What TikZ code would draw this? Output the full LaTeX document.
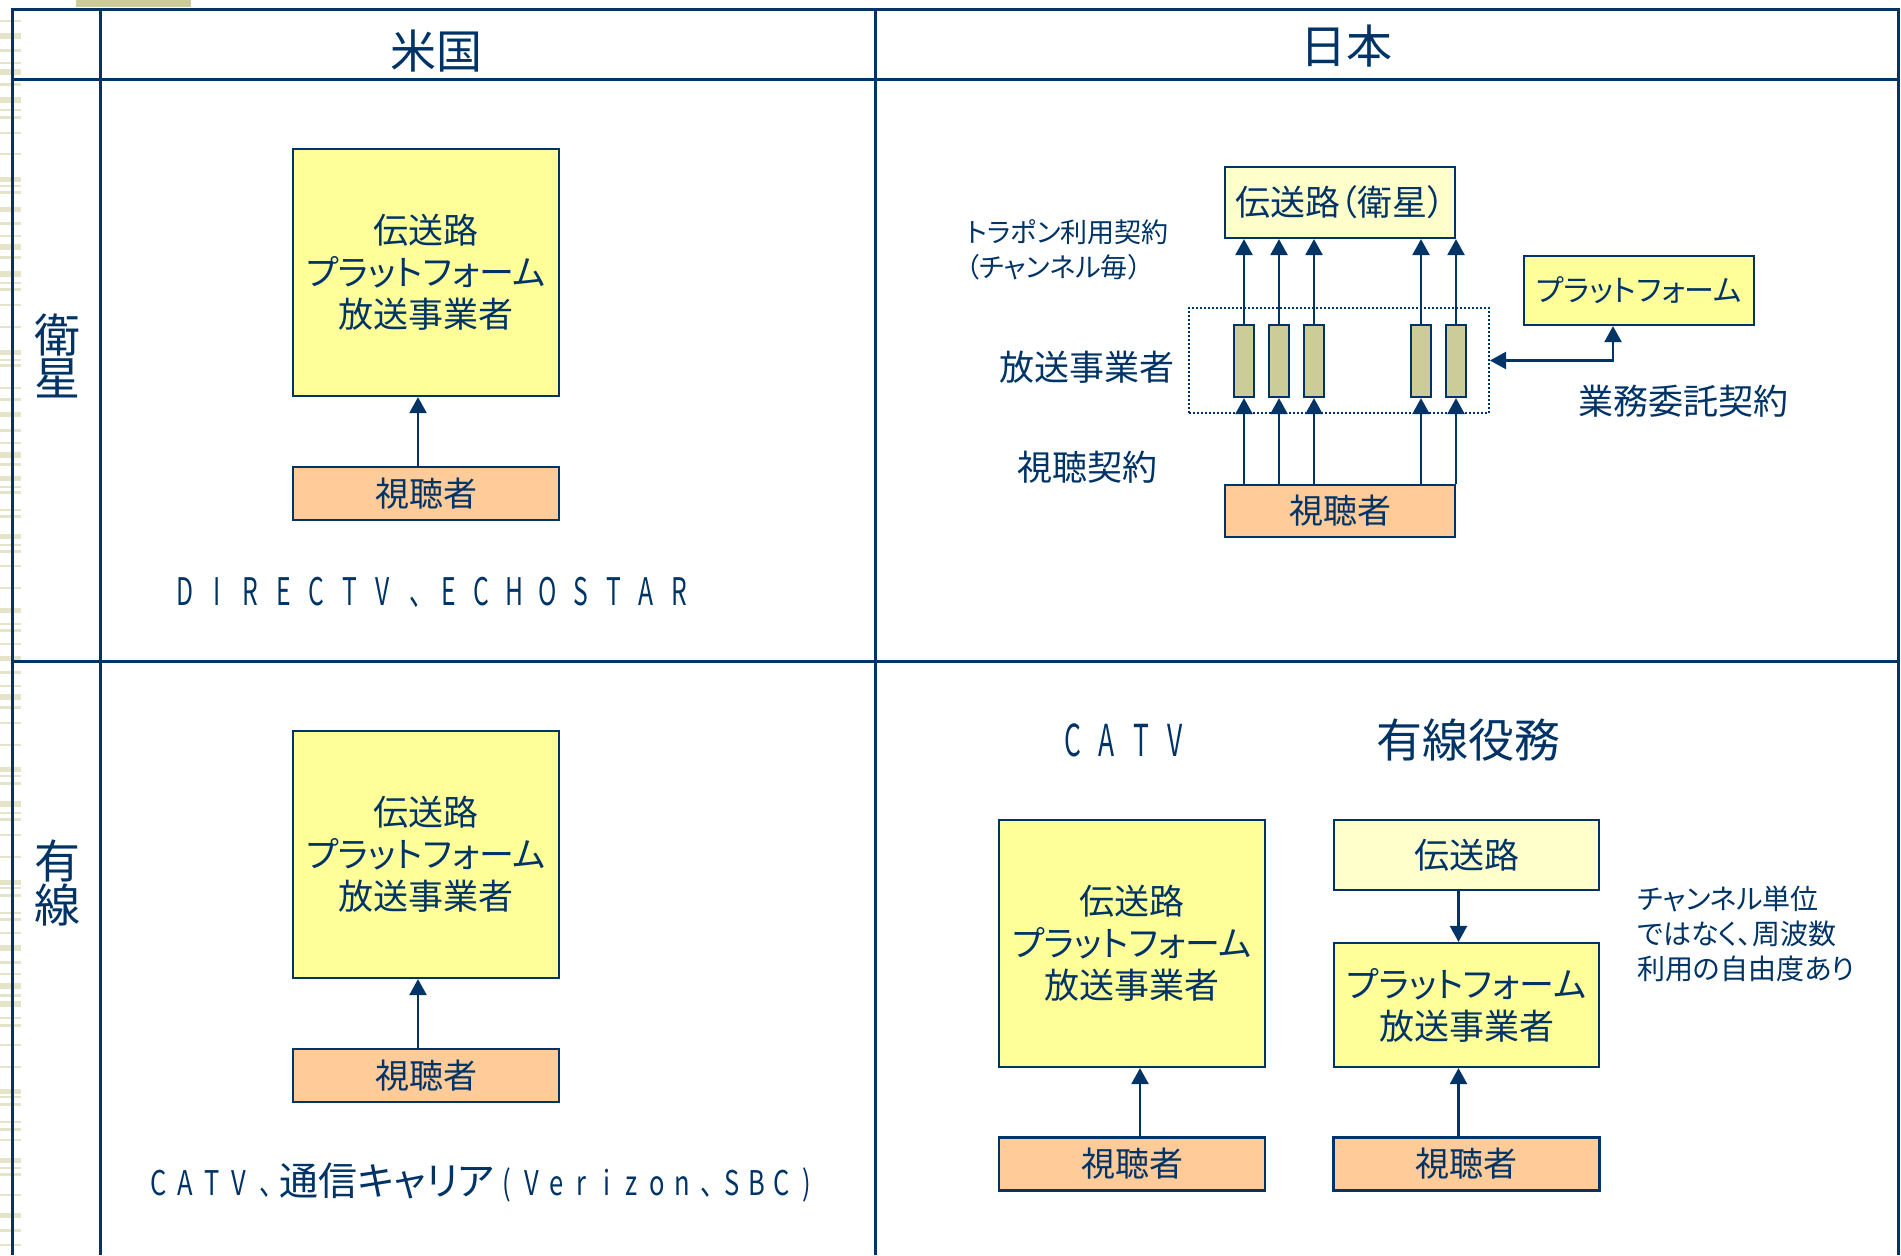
\documentclass[tikz,border=0pt]{standalone}
\usepackage{graphicx}
\usepackage{fontspec}
\setmainfont{Noto Sans CJK JP}[RawFeature=+palt]
\usetikzlibrary{arrows.meta,calc}
\definecolor{navy}{RGB}{0,51,102}
\definecolor{boxyellow}{RGB}{255,255,153}
\definecolor{paleyellow}{RGB}{255,255,204}
\definecolor{peach}{RGB}{255,204,153}
\definecolor{olivebox}{RGB}{204,204,153}
\definecolor{stripecol}{RGB}{229,227,200}
\makeatletter
\newcommand\fwtext[3]{\def\fw@p{#1}\def\fw@s{#2}\fw@loop#3\relax}
\def\fw@loop#1{\ifx\relax#1\else\makebox[\fw@p]{\scalebox{\fw@s}[1]{#1}}\expandafter\fw@loop\fi}
\makeatother
\tikzset{
  gridline/.style={navy, line width=1.5pt},
  bx/.style={draw=navy, line width=1.1pt, inner sep=0pt, align=center, text=navy},
  ybox/.style={bx, fill=boxyellow},
  pbox/.style={bx, fill=paleyellow},
  vbox/.style={bx, fill=peach, minimum width=133pt, minimum height=26.5pt, font=\fontsize{17pt}{20pt}\selectfont},
  chbox/.style={bx, fill=olivebox, minimum width=10pt, minimum height=36pt},
  bigbox/.style={ybox, minimum width=133pt, minimum height=123.5pt, font=\fontsize{17.5pt}{21pt}\selectfont},
  lbl/.style={text=navy, inner sep=0pt, align=center},
  arr/.style={draw=navy, line width=1.2pt, -{Triangle[width=8.5pt,length=8pt]}},
  arrboth/.style={draw=navy, line width=1.2pt, {Triangle[width=8.5pt,length=8pt]}-{Triangle[width=8.5pt,length=8pt]}},
}
\begin{document}
\begin{tikzpicture}[x=0.5pt,y=-0.5pt]
\useasboundingbox (0,0) rectangle (1901,1255);
\fill[white] (0,0) rectangle (1901,1255);
% decorative stripes at left edge
\foreach \yy/\hh in {21/2,36/6,50/3,63/2,72/6,84/3,100/6,110/2,117/3,133/2,154/2,179/5,186/2,192/3,209/5,223/3,236/2,247/6,257/3,274/6,283/2,289/3,305/2,327/2,352/5,360/2,365/3,388/2,399/3,414/5,430/3,443/2,455/6,464/3,478/5,487/2,492/3,510/2,516/3,536/5,545/2,551/3,566/2,588/2,610/5,624/2,630/3,644/2,658/5,672/3,686/2,697/6,707/3,723/2,745/2,769/5,776/2,783/3,804/6,813/2,819/3,835/2,857/2,882/5,888/2,895/3,913/2,919/3,933/2,948/6,962/3,974/2,986/6,995/3,1004/6,1018/2,1025/3,1045/2,1067/2,1091/5,1097/2,1104/3,1122/2,1129/3,1140/2,1160/5,1168/2,1174/3,1195/2,1215/5,1230/3,1245/2}
  \fill[stripecol] (0,\yy-\hh/2) rectangle (21,\yy+\hh/2);
\fill[olivebox] (76,0) rectangle (191,7);
% table
\draw[gridline] (12,1255) -- (12,9) -- (1898,9) -- (1898,1255);
\draw[gridline] (100,9) -- (100,1255);
\draw[gridline] (875,9) -- (875,1255);
\draw[gridline] (12,79) -- (1898,79);
\draw[gridline] (12,661) -- (1898,661);
% headers
\node[lbl, font=\fontsize{23pt}{27pt}\selectfont] (hus) at (436,51) {米国};
\node[lbl, font=\fontsize{23pt}{27pt}\selectfont] (hjp) at (1346,46) {日本};
\node[lbl, font=\fontsize{23pt}{19.5pt}\selectfont] (hsat) at (57,356) {衛\\星};
\node[lbl, font=\fontsize{23pt}{20pt}\selectfont] (hcab) at (57,883) {有\\線};
% US satellite
\node[bigbox] (usbox) at (426,272.5) {伝送路\\プラットフォーム\\放送事業者};
\node[vbox] (usview) at (426,493.5) {視聴者};
\draw[arr] ([xshift=-4pt]usview.north) -- ([xshift=-4pt]usbox.south);
\node[lbl, font=\fontsize{19pt}{22pt}\selectfont] (usdtv) at (432,592) {\fwtext{16.5pt}{0.65}{DIRECTV、ECHOSTAR}};
% US cable
\node[bigbox] (usbox2) at (426,854.5) {伝送路\\プラットフォーム\\放送事業者};
\node[vbox] (usview2) at (426,1075.5) {視聴者};
\draw[arr] ([xshift=-4pt]usview2.north) -- ([xshift=-4pt]usbox2.south);
\node[lbl] (uscatv) at (482,1182) {{\fontsize{17pt}{20pt}\selectfont\fwtext{13.5pt}{0.75}{CATV、}}{\fontsize{19.5pt}{22pt}\selectfont 通信キャリア}{\fontsize{17pt}{20pt}\selectfont\fwtext{12.5pt}{0.75}{(Verizon、SBC)}}};
% Japan satellite
\node[pbox, minimum width=115pt, minimum height=35.5pt, font=\fontsize{17.5pt}{21pt}\selectfont] (jsat) at (1340,202.5) {伝送路（衛星）};
\node[vbox, minimum width=115pt, minimum height=26pt] (jview) at (1340,511) {視聴者};
\node[ybox, minimum width=115pt, minimum height=34.5pt, font=\fontsize{15pt}{18pt}\selectfont] (plat) at (1639,290.5) {プラットフォーム};
\node[draw=navy, line width=1pt, dash pattern=on 1pt off 1pt, minimum width=150pt, minimum height=52.5pt, inner sep=0pt] (dot) at (1339,360.5) {};
\foreach \i/\xx in {1/1244,2/1279,3/1314,4/1421,5/1456} {
  \node[chbox] (ch\i) at (\xx,361) {};
  \draw[arr] (ch\i.north) -- (ch\i.north |- jsat.south);
  \draw[arr] (ch\i.south |- jview.north) -- (ch\i.south);
}
\draw[arrboth] ($(plat.south)+(-26,0)$) |- (dot.east);
\node[lbl, anchor=west, align=left, font=\fontsize{13.5pt}{17.5pt}\selectfont] (trapon) at (966,250) {トラポン利用契約\\（チャンネル毎）};
\node[lbl, font=\fontsize{17.5pt}{21pt}\selectfont] (lbcast) at (1087,367) {放送事業者};
\node[lbl, font=\fontsize{17.5pt}{21pt}\selectfont] (lview) at (1087,467) {視聴契約};
\node[lbl, font=\fontsize{17.5pt}{21pt}\selectfont] (litaku) at (1683,401) {業務委託契約};
% Japan cable
\node[lbl, font=\fontsize{22pt}{26pt}\selectfont] (jcatv) at (1124,740) {\fwtext{17pt}{0.6}{CATV}};
\node[lbl, font=\fontsize{23pt}{27pt}\selectfont] (jyuusen) at (1468,740) {有線役務};
\node[bigbox] (jcbox) at (1132,943.5) {伝送路\\プラットフォーム\\放送事業者};
\node[vbox] (jcview) at (1132,1164) {視聴者};
\draw[arr] ([xshift=4pt]jcview.north) -- ([xshift=4pt]jcbox.south);
\node[pbox, minimum width=132.5pt, minimum height=35pt, font=\fontsize{17.5pt}{21pt}\selectfont] (jtrans) at (1466.5,855) {伝送路};
\node[ybox, minimum width=132.5pt, minimum height=62pt, font=\fontsize{17.5pt}{21pt}\selectfont] (jplat) at (1466.5,1005) {プラットフォーム\\放送事業者};
\node[vbox] (jview2) at (1466.5,1164) {視聴者};
\draw[arr] ([xshift=-4pt]jtrans.south) -- ([xshift=-4pt]jplat.north);
\draw[arr] ([xshift=-4pt]jview2.north) -- ([xshift=-4pt]jplat.south);
\node[lbl, anchor=west, align=left, font=\fontsize{14pt}{17.5pt}\selectfont] (jnote) at (1637,934) {チャンネル単位\\ではなく、周波数\\利用の自由度あり};
\end{tikzpicture}
\end{document}
